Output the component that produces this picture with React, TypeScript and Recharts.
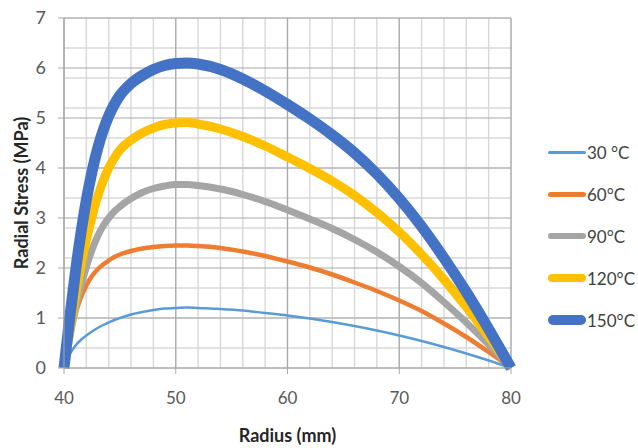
import React from 'react';
import { LineChart, Line, XAxis, YAxis, CartesianGrid, Legend } from 'recharts';

const radius = [40, 40.25, 40.5, 41, 41.5, 42, 42.5, 43, 43.5, 44, 44.5, 45, 46, 47, 48, 49, 50, 51, 52, 54, 56, 58, 60, 62, 64, 66, 68, 70, 72, 74, 76, 78, 80];
const s30 = [0, 0.15, 0.27, 0.44, 0.56, 0.65, 0.73, 0.8, 0.86, 0.91, 0.96, 1.0, 1.07, 1.12, 1.16, 1.19, 1.2, 1.21, 1.2, 1.18, 1.15, 1.1, 1.05, 0.99, 0.92, 0.84, 0.75, 0.65, 0.54, 0.42, 0.29, 0.15, 0];
const s60 = [0, 0.31, 0.6, 1.06, 1.4, 1.65, 1.84, 1.97, 2.07, 2.15, 2.22, 2.27, 2.34, 2.39, 2.42, 2.44, 2.45, 2.45, 2.44, 2.4, 2.33, 2.24, 2.13, 2.01, 1.87, 1.71, 1.54, 1.35, 1.14, 0.89, 0.62, 0.32, 0];
const s90 = [0, 0.3, 0.6, 1.15, 1.62, 2.02, 2.36, 2.63, 2.84, 3.0, 3.13, 3.23, 3.39, 3.51, 3.59, 3.64, 3.67, 3.67, 3.65, 3.58, 3.47, 3.33, 3.16, 2.98, 2.79, 2.57, 2.32, 2.03, 1.7, 1.32, 0.91, 0.47, 0];
const s120 = [0, 0.36, 0.72, 1.4, 2.02, 2.56, 3.02, 3.42, 3.74, 4.0, 4.2, 4.36, 4.56, 4.7, 4.8, 4.87, 4.9, 4.91, 4.88, 4.78, 4.63, 4.44, 4.22, 3.99, 3.74, 3.45, 3.11, 2.72, 2.27, 1.77, 1.22, 0.63, 0];
const s150 = [0, 0.5, 0.98, 1.88, 2.68, 3.36, 3.92, 4.38, 4.75, 5.04, 5.27, 5.45, 5.69, 5.85, 5.97, 6.05, 6.09, 6.1, 6.08, 5.97, 5.78, 5.54, 5.27, 4.98, 4.66, 4.3, 3.88, 3.39, 2.83, 2.2, 1.52, 0.78, 0];

const xTicks = [40, 50, 60, 70, 80];
const yTicks = [0, 1, 2, 3, 4, 5, 6, 7];
const xMinor = [40, 42, 44, 46, 48, 50, 52, 54, 56, 58, 60, 62, 64, 66, 68, 70, 72, 74, 76, 78, 80];
const yMinor = [0, 0.2, 0.4, 0.6, 0.8, 1, 1.2, 1.4, 1.6, 1.8, 2, 2.2, 2.4, 2.6, 2.8, 3, 3.2, 3.4, 3.6, 3.8, 4, 4.2, 4.4, 4.6, 4.8, 5, 5.2, 5.4, 5.6, 5.8, 6, 6.2, 6.4, 6.6, 6.8, 7];

const seriesNames = ['30 °C', '60°C', '90°C', '120°C', '150°C'];
const seriesKeys = ['s30', 's60', 's90', 's120', 's150'];

const data = radius.map((r, i) => ({
  r,
  s30: s30[i],
  s60: s60[i],
  s90: s90[i],
  s120: s120[i],
  s150: s150[i],
}));

const colors = ['#5B9BD5', '#ED7D31', '#A5A5A5', '#FFC000', '#4472C4'];
const widths = [2.5, 4.5, 7, 9, 11];
const legendWidths = [3, 5, 6, 8, 10];
const FONT = 'Lato, "Open Sans", sans-serif';

const renderLegend = () => (
  <div style={{ width: 120, paddingLeft: 37, boxSizing: 'border-box', fontFamily: FONT }}>
    {seriesNames.map((n, i) => (
      <div key={n} style={{ display: 'flex', alignItems: 'center', height: 42, whiteSpace: 'nowrap' }}>
        <div style={{ width: 38, flex: 'none', height: legendWidths[i], background: colors[i], borderRadius: legendWidths[i] / 2 }} />
        <span style={{ fontSize: 17, color: '#404040', marginLeft: 1 }}>{n}</span>
      </div>
    ))}
  </div>
);

export default function App() {
  return (
    <div style={{ position: 'absolute', left: 0, top: 0, width: 638, height: 448, background: '#fff' }}>
      <LineChart width={638} height={448} data={data} margin={{ top: 18, right: 7, bottom: 30, left: 0 }}>
        <CartesianGrid stroke="#d8d8d8" strokeWidth={1.4} horizontalValues={yMinor} verticalValues={xMinor} />
        <CartesianGrid stroke="#a8a8a8" strokeWidth={1.2} horizontalValues={yTicks} verticalValues={xTicks} />
        <XAxis
          dataKey="r"
          type="number"
          domain={[40, 80]}
          ticks={xTicks}
          height={50}
          tickSize={6}
          tickMargin={18}
          axisLine={{ stroke: '#a8a8a8' }}
          tickLine={{ stroke: '#a8a8a8' }}
          tick={{ fontSize: 17, fill: '#595959', fontFamily: FONT }}
          label={{ value: 'Radius (mm)', position: 'bottom', offset: 11, style: { fontSize: 18, fontWeight: 'bold', fill: '#262626', fontFamily: FONT } }}
        />
        <YAxis
          type="number"
          domain={[0, 7]}
          ticks={yTicks}
          width={64}
          tickSize={6}
          tickMargin={12}
          axisLine={{ stroke: '#a8a8a8' }}
          tickLine={{ stroke: '#a8a8a8' }}
          tick={{ fontSize: 18, fill: '#595959', fontFamily: FONT }}
          label={{ value: 'Radial Stress (MPa)', angle: -90, position: 'insideLeft', offset: 22, style: { textAnchor: 'middle', fontSize: 18, fontWeight: 'bold', fill: '#262626', fontFamily: FONT } }}
        />
        <Legend layout="vertical" align="right" verticalAlign="middle" content={renderLegend} wrapperStyle={{ top: 131 }} />
        {seriesKeys.map((k, i) => (
          <Line
            key={k}
            dataKey={k}
            name={seriesNames[i]}
            type="monotone"
            stroke={colors[i]}
            strokeWidth={widths[i]}
            dot={false}
            activeDot={false}
            isAnimationActive={false}
          />
        ))}
      </LineChart>
    </div>
  );
}
